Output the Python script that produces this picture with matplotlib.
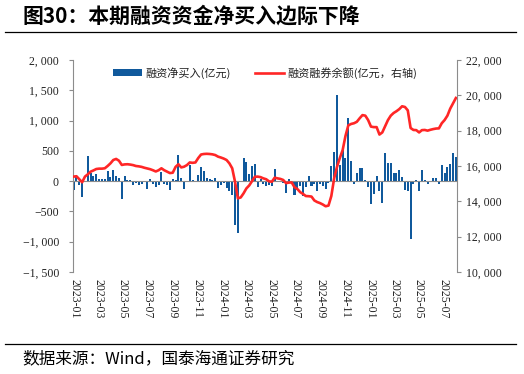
"""Weekly margin financing net buy (bars) vs margin balance (line, right axis)."""

import matplotlib
matplotlib.use("Agg")
import matplotlib.dates as mdates
import matplotlib.pyplot as plt
import pandas as pd
from matplotlib.lines import Line2D
from matplotlib.patches import Patch
from matplotlib.ticker import FuncFormatter, MultipleLocator

plt.rcParams["font.family"] = ["Noto Sans CJK SC", "DejaVu Sans"]
plt.rcParams["axes.unicode_minus"] = False

TITLE = "图30：本期融资资金净买入边际下降"
SOURCE = "数据来源：Wind，国泰海通证券研究"
BAR_LABEL = "融资净买入(亿元)"
LINE_LABEL = "融资融券余额(亿元，右轴)"

# weekly points, Fridays from 2022-12-30
FIRST_WEEK = "2022-12-30"

# net buy, 亿元
NET_BUY = [
    -140, 80, -70, -260, 10, 415, 135, 80, 110, 30,
    30, 30, 160, 70, 185, 90, 50, -290, 80, 20,
    20, -70, -30, -60, -40, -20, -130, 40, -50, -90,
    -70, 150, -40, -60, -150, 40, 20, 430, 60, -130,
    -10, 270, 20, 10, 100, 240, 170, 60, 30, 20,
    50, -120, -60, -30, -110, -170, -230, -730, -850, 10,
    380, 320, 110, 250, 280, -100, 30, -50, -80, -60,
    -80, 200, -10, -20, -30, -190, 40, -20, -230, -150,
    -80, -250, -100, 80, -80, -50, -160, -40, -80, -130,
    -30, 250, 480, 1420, 270, 540, 390, 1040, 330, -50,
    130, 210, 225, 20, -100, -385, -220, 80, -170, -360,
    470, 300, 300, 130, 130, 180, 70, -150, -170, -950,
    -50, 20, -160, 180, 20, -40, 10, 60, 60, -40,
    270, 140, 230, 280, 460, 400,
]

# margin balance, 亿元 (right axis)
BALANCE = [
    15400, 15420, 15250, 15080, 15400, 15530, 15680, 15750, 15830, 15850,
    15850, 15870, 16000, 16150, 16340, 16400, 16300, 16060, 16090, 16100,
    16080, 16050, 16000, 15980, 15950, 15900, 15860, 15820, 15760, 15690,
    15760, 15870, 15760, 15680, 15600, 15620, 15950, 16100, 15920, 15960,
    16050, 16200, 16180, 16200, 16450, 16650, 16680, 16690, 16680, 16660,
    16620, 16530, 16480, 16420, 16340, 16150, 15870, 15100, 14170, 14220,
    14450, 14730, 14900, 15150, 15390, 15400, 15370, 15300, 15250, 15130,
    15110, 15340, 15300, 15270, 15210, 15030, 15060, 15070, 14800, 14700,
    14520, 14420, 14300, 14290, 14270, 14050, 13960, 13900, 13820, 13720,
    13760, 14300, 15300, 15950, 16450, 16900, 17700, 18300, 18380, 18420,
    18500, 18700, 18880, 18850, 18600, 18230, 18200, 18200, 17780, 17900,
    18250, 18600, 18850, 19000, 19100, 19220, 19380, 19340, 19150, 18150,
    18040, 18030, 17900, 18030, 18040, 18000, 18050, 18090, 18120, 18130,
    18420, 18600, 18850, 19250, 19550, 19850,
]

BAR_COLOR = "#10599C"
LINE_COLOR = "#FF2626"
AXIS_GRAY = "#8C8C8C"
NUM_FONT = "Liberation Serif"


def _num_label(v, _pos=None):
    s = f"{v:,.0f}".replace(",", ", ")
    return s.replace("-", "\u2212")


def main():
    weeks = pd.date_range(FIRST_WEEK, periods=len(NET_BUY), freq="W-FRI")

    fig = plt.figure(figsize=(5.24, 3.74), dpi=100)
    ax = fig.add_axes([0.139, 0.2727, 0.7326, 0.5669])
    ax2 = ax.twinx()

    ax.bar(weeks, NET_BUY, width=5, color=BAR_COLOR, zorder=2)
    ax.axhline(0, color=AXIS_GRAY, lw=0.8, zorder=3)
    ax2.plot(weeks, BALANCE, color=LINE_COLOR, lw=1.9, solid_joinstyle="round")

    ax.set_ylim(-1500, 2000)
    ax.yaxis.set_major_locator(MultipleLocator(500))
    ax.yaxis.set_major_formatter(FuncFormatter(_num_label))
    ax2.set_ylim(10000, 22000)
    ax2.yaxis.set_major_locator(MultipleLocator(2000))
    ax2.yaxis.set_major_formatter(FuncFormatter(_num_label))

    ax.set_xlim(pd.Timestamp("2022-12-28"), pd.Timestamp("2025-08-03"))
    ax.xaxis.set_major_locator(mdates.MonthLocator(bymonth=[1, 3, 5, 7, 9, 11]))
    ax.xaxis.set_major_formatter(mdates.DateFormatter("%Y-%m"))

    for a in (ax, ax2):
        for side in ("top", "bottom"):
            a.spines[side].set_visible(False)
        a.spines["left"].set_color(AXIS_GRAY)
        a.spines["right"].set_color(AXIS_GRAY)
        a.spines["left"].set_linewidth(0.8)
        a.spines["right"].set_linewidth(0.8)
    ax.spines["right"].set_visible(False)
    ax2.spines["left"].set_visible(False)

    ax.tick_params(axis="y", length=3, width=0.8, color=AXIS_GRAY, pad=7,
                   labelsize=8.5, labelcolor="#222222")
    ax2.tick_params(axis="y", length=3, width=0.8, color=AXIS_GRAY, pad=4,
                    labelsize=8.5, labelcolor="#222222")
    ax.tick_params(axis="x", length=0, pad=5, labelsize=8.5, labelcolor="#222222")
    for lab in ax.get_yticklabels() + ax2.get_yticklabels():
        lab.set_fontfamily(NUM_FONT)
    for lab in ax.get_xticklabels():
        lab.set_fontfamily(NUM_FONT)
        lab.set_rotation(-90)
        lab.set_ha("center")
        lab.set_va("top")

    handles = [
        Patch(facecolor=BAR_COLOR, edgecolor="none"),
        Line2D([], [], color=LINE_COLOR, lw=1.9),
    ]
    ax2.legend(handles, [BAR_LABEL, LINE_LABEL], loc="center", ncol=2,
               bbox_to_anchor=(0.5, 0.94), frameon=False, fontsize=8,
               handlelength=2.6, handleheight=0.6, handletextpad=0.3,
               columnspacing=2.2, labelcolor="#222222")

    fig.text(0.042, 0.958, TITLE, fontsize=15, fontweight="bold",
             ha="left", va="center", color="black")
    fig.add_artist(Line2D([0.01, 0.985], [0.915, 0.915], color="black", lw=0.9))
    fig.add_artist(Line2D([0.01, 0.985], [0.081, 0.081], color="black", lw=0.9))
    fig.text(0.042, 0.042, SOURCE, fontsize=12, ha="left", va="center",
             color="black")

    fig.savefig("out.png", dpi=100)


if __name__ == "__main__":
    main()
